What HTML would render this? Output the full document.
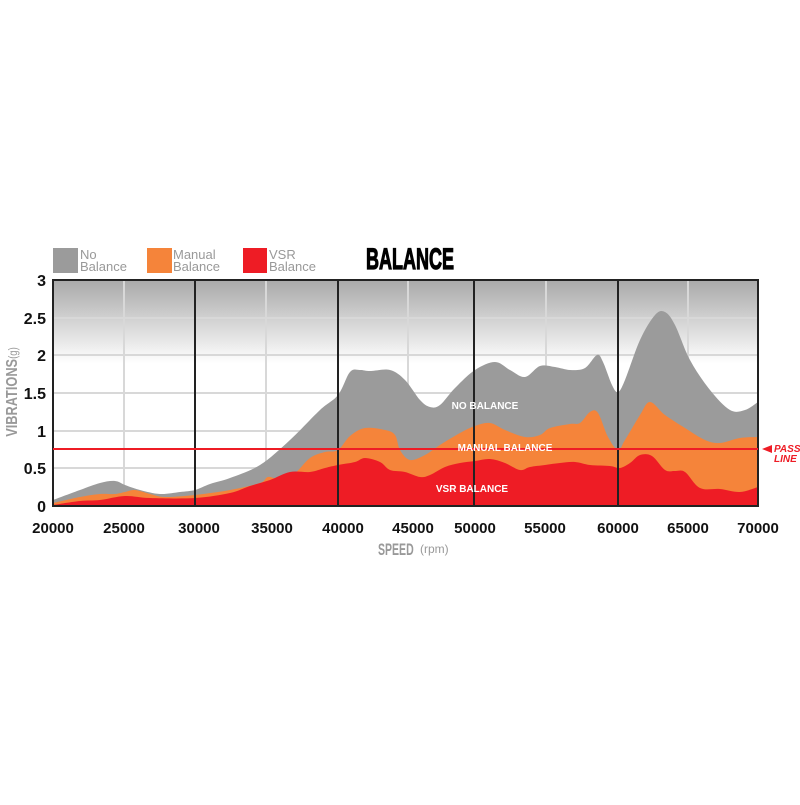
<!DOCTYPE html>
<html><head><style>body{margin:0;background:#fff;width:800px;height:800px;overflow:hidden}</style></head><body>
<svg width="800" height="800" xmlns="http://www.w3.org/2000/svg" font-family="Liberation Sans, sans-serif">
<defs><linearGradient id="g" x1="0" y1="0" x2="0" y2="1"><stop offset="0" stop-color="#a9a9a9"/><stop offset="0.37" stop-color="#fff"/><stop offset="1" stop-color="#fff"/></linearGradient></defs>
<rect x="53" y="280" width="705" height="226" fill="url(#g)"/>
<g stroke="#d8d8d8" stroke-width="2">
<line x1="53" x2="758" y1="318" y2="318"/><line x1="53" x2="758" y1="355" y2="355"/><line x1="53" x2="758" y1="393" y2="393"/><line x1="53" x2="758" y1="431" y2="431"/><line x1="53" x2="758" y1="468" y2="468"/>
<line x1="124" x2="124" y1="280" y2="506"/><line x1="266" x2="266" y1="280" y2="506"/><line x1="408" x2="408" y1="280" y2="506"/><line x1="546" x2="546" y1="280" y2="506"/><line x1="688" x2="688" y1="280" y2="506"/>
</g>
<path id="p1" fill="#9b9b9b" d=""/>
<path id="p2" fill="#f5843a" d=""/>
<path id="p3" fill="#ee1c25" d=""/>
<g stroke="#222" stroke-width="2"><line x1="195" x2="195" y1="280" y2="506"/><line x1="338" x2="338" y1="280" y2="506"/><line x1="474" x2="474" y1="280" y2="506"/><line x1="618" x2="618" y1="280" y2="506"/></g>
<rect x="53" y="280" width="705" height="226" fill="none" stroke="#222" stroke-width="2"/>
<line x1="53" x2="758" y1="449" y2="449" stroke="#ee1c25" stroke-width="2"/>
<polygon points="762,449 772,445 772,453" fill="#ee1c25"/>
<text x="774" y="452" font-size="10" font-weight="bold" font-style="italic" fill="#ee1c25">PASS</text>
<text x="774" y="462" font-size="10" font-weight="bold" font-style="italic" fill="#ee1c25">LINE</text>
<g fill="#fff" font-size="10" font-weight="bold" text-anchor="middle"><text x="485" y="409">NO BALANCE</text><text x="505" y="451">MANUAL BALANCE</text><text x="472" y="492">VSR BALANCE</text></g>
<g font-size="16" font-weight="bold" fill="#111" text-anchor="end"><text x="46" y="286">3</text><text x="46" y="324">2.5</text><text x="46" y="361">2</text><text x="46" y="399">1.5</text><text x="46" y="437">1</text><text x="46" y="474">0.5</text><text x="46" y="512">0</text></g>
<g font-size="15" font-weight="bold" fill="#111" text-anchor="middle"><text x="53" y="533">20000</text><text x="124" y="533">25000</text><text x="199" y="533">30000</text><text x="272" y="533">35000</text><text x="343" y="533">40000</text><text x="413" y="533">45000</text><text x="475" y="533">50000</text><text x="545" y="533">55000</text><text x="618" y="533">60000</text><text x="688" y="533">65000</text><text x="758" y="533">70000</text></g>
<text x="378" y="555" font-size="17" font-weight="bold" fill="#999" transform="translate(378 0) scale(0.62 1) translate(-378 0)">SPEED</text>
<text x="420" y="553" font-size="12" fill="#999">(rpm)</text>
<g transform="translate(17 392) rotate(-90) scale(0.8 1)"><text x="0" y="0" text-anchor="middle" font-size="16" font-weight="bold" fill="#999"><tspan>VIBRATIONS</tspan><tspan font-size="12" font-weight="normal">(g)</tspan></text></g>
<text x="366" y="269" font-size="30" font-weight="bold" fill="#000" stroke="#000" stroke-width="1.2" textLength="88" lengthAdjust="spacingAndGlyphs">BALANCE</text>
<rect x="53" y="248" width="25" height="25" fill="#9b9b9b"/><rect x="147" y="248" width="25" height="25" fill="#f5843a"/><rect x="243" y="248" width="24" height="25" fill="#ee1c25"/>
<g font-size="13" fill="#999"><text x="80" y="259">No</text><text x="80" y="271">Balance</text><text x="173" y="259">Manual</text><text x="173" y="271">Balance</text><text x="269" y="259">VSR</text><text x="269" y="271">Balance</text></g>
</svg>
<script>
function sm(a){var p=[];for(var i=0;i<a.length;i+=2)p.push([a[i],a[i+1]]);
var d="M53,506 L"+p[0][0]+","+p[0][1];
for(var i=0;i<p.length-1;i++){var p0=p[i-1]||p[i],p1=p[i],p2=p[i+1],p3=p[i+2]||p2;
var c1x=p1[0]+(p2[0]-p0[0])/6,c1y=p1[1]+(p2[1]-p0[1])/6,c2x=p2[0]-(p3[0]-p1[0])/6,c2y=p2[1]-(p3[1]-p1[1])/6;
d+=" C"+c1x+","+c1y+" "+c2x+","+c2y+" "+p2[0]+","+p2[1];}
return d+" L758,506Z";}
document.getElementById("p1").setAttribute("d",sm([53,500,80,490,100,483,115,481,125,485,140,490,160,494,180,492,195,490,210,484,230,478,260,465,290,440,320,410,338,395,350,372,360,370,370,371,390,370,405,380,420,400,430,407,440,405,455,388,475,370,495,362,510,370,525,377,540,366,555,367,570,370,585,368,597,355,603,362,612,385,618,392,625,380,640,340,655,315,665,312,675,325,690,360,710,390,730,410,745,410,758,402]));
document.getElementById("p2").setAttribute("d",sm([53,503,80,497,100,494,115,494,125,492,135,490,150,494,165,497,195,495,230,490,260,483,268,477,280,479,295,473,310,458,325,452,338,450,350,436,365,428,385,430,395,435,400,450,410,460,425,455,440,445,460,433,475,426,490,423,505,430,525,437,540,435,550,428,570,424,580,423,590,412,598,413,608,437,618,450,625,440,640,415,650,402,665,415,685,428,705,440,720,443,740,438,758,437]));
document.getElementById("p3").setAttribute("d",sm([53,505,80,501,100,500,125,496,150,498,195,498,230,493,250,486,270,480,290,472,310,472,325,468,338,465,355,462,365,458,380,462,390,470,405,472,420,477,430,475,445,467,460,463,475,461,490,459,505,463,520,470,530,467,545,465,560,463,575,462,590,465,610,466,620,468,630,463,640,455,652,456,665,470,675,471,685,472,700,488,720,489,740,492,758,487]));
</script>
</body></html>
